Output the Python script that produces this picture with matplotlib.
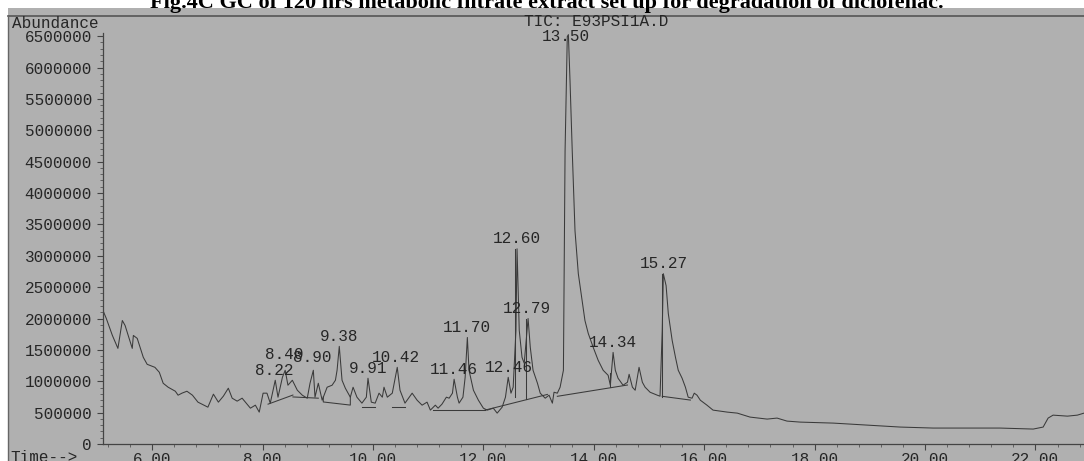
import matplotlib
matplotlib.use("Agg")
import matplotlib.pyplot as plt
import numpy as np
from matplotlib.ticker import MultipleLocator, FixedLocator
from matplotlib.lines import Line2D
from matplotlib.patches import Rectangle

# chromatogram trace (time in min, abundance)
time = [5.11, 5.17, 5.28, 5.38, 5.46, 5.51, 5.64, 5.66, 5.73, 5.84, 5.91, 6.05, 6.13, 6.20, 6.29,
        6.42, 6.47, 6.54, 6.63, 6.73, 6.83, 7.01, 7.11, 7.20, 7.29, 7.38, 7.45, 7.54, 7.63, 7.78,
        7.87, 7.94, 8.01, 8.08, 8.14, 8.23, 8.28, 8.36, 8.41, 8.46, 8.54, 8.63, 8.72, 8.81, 8.86,
        8.92, 8.95, 9.01, 9.08, 9.17, 9.26, 9.32, 9.35, 9.39, 9.44, 9.50, 9.59, 9.64, 9.71, 9.80,
        9.88, 9.91, 9.97, 10.04, 10.11, 10.17, 10.20, 10.26, 10.35, 10.44, 10.49, 10.58, 10.71,
        10.80, 10.89, 10.98, 11.04, 11.13, 11.18, 11.25, 11.33, 11.38, 11.44, 11.47, 11.53, 11.56,
        11.63, 11.67, 11.71, 11.74, 11.82, 11.91, 12.00, 12.07, 12.18, 12.25, 12.34, 12.40, 12.45,
        12.50, 12.54, 12.59, 12.61, 12.65, 12.70, 12.74, 12.78, 12.81, 12.85, 12.90, 12.98, 13.03,
        13.12, 13.19, 13.25, 13.28, 13.34, 13.39, 13.45, 13.46, 13.48, 13.52, 13.54, 13.57, 13.61,
        13.66, 13.72, 13.79, 13.84, 13.90, 13.99, 14.08, 14.17, 14.26, 14.30, 14.35, 14.39, 14.44,
        14.53, 14.61, 14.64, 14.70, 14.75, 14.79, 14.82, 14.88, 14.93, 15.02, 15.15, 15.20, 15.24,
        15.26, 15.31, 15.35, 15.42, 15.48, 15.53, 15.60, 15.66, 15.71, 15.78, 15.82, 15.87, 15.93,
        16.05, 16.16, 16.42, 16.60, 16.83, 17.14, 17.32, 17.50, 17.74, 18.34, 18.95, 19.55, 20.15,
        20.76, 21.36, 21.96, 22.14, 22.23, 22.32, 22.58, 22.76, 22.88]
abundance = [2127000, 2000000, 1730000, 1524000, 1968000, 1889000, 1524000, 1730000, 1683000,
             1381000, 1270000, 1222000, 1143000, 968000, 905000, 841000, 778000, 810000, 841000,
             778000, 667000, 587000, 794000, 667000, 762000, 889000, 730000, 683000, 730000,
             571000, 619000, 508000, 810000, 810000, 651000, 1016000, 746000, 1063000, 1175000,
             937000, 1016000, 857000, 778000, 730000, 968000, 1175000, 746000, 968000, 698000,
             905000, 937000, 1016000, 1175000, 1556000, 1016000, 889000, 746000, 905000, 746000,
             651000, 746000, 1048000, 667000, 651000, 810000, 746000, 905000, 746000, 810000,
             1222000, 857000, 651000, 810000, 698000, 619000, 667000, 540000, 619000, 571000,
             635000, 746000, 730000, 810000, 1032000, 746000, 651000, 746000, 1063000, 1698000,
             1175000, 857000, 698000, 571000, 540000, 571000, 492000, 587000, 746000, 1063000,
             810000, 905000, 1810000, 3111000, 1810000, 1381000, 1286000, 1698000, 2000000,
             1540000, 1175000, 968000, 810000, 730000, 778000, 651000, 825000, 810000, 905000,
             1175000, 2286000, 4667000, 6492000, 6524000, 5778000, 4667000, 3397000, 2714000,
             2286000, 1968000, 1762000, 1540000, 1333000, 1175000, 1095000, 937000, 1460000,
             1175000, 1048000, 937000, 984000, 1111000, 905000, 857000, 1063000, 1222000, 984000,
             905000, 825000, 778000, 762000, 1810000, 2714000, 2524000, 2079000, 1651000, 1381000,
             1175000, 1048000, 905000, 746000, 730000, 810000, 778000, 698000, 619000, 540000,
             508000, 492000, 429000, 397000, 413000, 365000, 349000, 333000, 302000, 270000,
             254000, 254000, 254000, 238000, 270000, 413000, 460000, 444000, 460000, 492000]

# integration baselines
base_t = [[8.10, 8.55], [8.55, 9.01], [9.10, 9.10, 9.59, 9.59], [9.80, 10.04], [10.35, 10.58],
          [11.09, 12.03], [12.03, 13.16], [13.34, 14.61], [15.24, 15.75]]
base_a = [[635000, 780000], [750000, 730000], [750000, 670000, 620000, 750000], [590000, 590000],
          [590000, 590000], [540000, 540000], [540000, 790000], [760000, 940000], [760000, 700000]]

# peak start markers
drop_t = [12.58, 12.78, 14.30, 15.24]
drop_lo = [750000, 710000, 905000, 750000]
drop_hi = [3111000, 2000000, 1130000, 2714000]

peak_rt = ["8.22", "8.40", "8.90", "9.38", "9.91", "10.42", "11.46", "11.70", "12.46",
           "12.60", "12.79", "13.50", "14.34", "15.27"]

W, H = 1084, 461
fig = plt.figure(figsize=(W / 100, H / 100), dpi=100)
fig.patch.set_facecolor("white")

paper = "#b0b0b0"
ink = "#262626"
trace = "#3a3a3a"
fig.patches.append(Rectangle((8 / W, 0), 1 - 8 / W, 1 - 8 / H, transform=fig.transFigure,
                             facecolor=paper, edgecolor="none", zorder=-10))
fig.add_artist(Line2D([8 / W, 1], [1 - 16 / H, 1 - 16 / H], color="#555555", lw=1.2, zorder=-5))
fig.add_artist(Line2D([8 / W, 8 / W], [0, 1 - 16 / H], color="#666666", lw=1.0, zorder=-5))

fig.text(547 / W, 1 - 8 / H,
         "Fig.4C GC of 120 hrs metabolic filtrate extract set up for degradation of diclofenac.",
         family="Liberation Serif", weight="bold", fontsize=16, ha="center", va="baseline")

mono = "Liberation Mono"
fs = 11.5

ax = fig.add_axes([103 / W, 17 / H, 1 - 103 / W, 411 / H])
ax.set_zorder(5)
ax.set_facecolor("none")
ax.plot(time, abundance, color=trace, lw=0.75)
for bt, ba in zip(base_t, base_a):
    ax.plot(bt, ba, color=trace, lw=0.75)
for t, lo, hi in zip(drop_t, drop_lo, drop_hi):
    ax.plot([t, t], [lo, hi], color=trace, lw=0.75)

t_arr = np.array(time)
a_arr = np.array(abundance)
extra = {"8.40": 6, "8.90": 3, "13.50": -12}
for rt in peak_rt:
    v = float(rt)
    near = np.abs(t_arr - v) < 0.06
    apex = a_arr[near].max()
    dy = 10 + extra.get(rt, 0)
    ax.annotate(rt, (v, apex), xytext=(0, dy), textcoords="offset pixels",
                ha="center", va="center", family=mono, fontsize=fs, color=ink,
                annotation_clip=False)

ax.set_xlim(5.11, 22.88)
ax.set_ylim(0, 6550000)
xmaj = [6, 8, 10, 12, 14, 16, 18, 20, 22]
ymaj = np.arange(0, 6500001, 500000)
ax.xaxis.set_major_locator(FixedLocator(xmaj))
ax.xaxis.set_minor_locator(MultipleLocator(0.4))
ax.yaxis.set_major_locator(FixedLocator(ymaj))
ax.yaxis.set_minor_locator(MultipleLocator(100000))
ax.set_xticklabels([f"{v:.2f}" for v in xmaj])
ax.set_yticklabels([str(int(v)) for v in ymaj])
for lab in ax.get_xticklabels() + ax.get_yticklabels():
    lab.set_family(mono)
    lab.set_fontsize(fs)
    lab.set_color(ink)
ax.tick_params(axis="both", which="major", length=4, width=0.8, color="#444444", pad=4)
ax.tick_params(axis="both", which="minor", length=2.5, width=0.6, color="#555555")
ax.tick_params(axis="x", pad=2)
for s in ["top", "right"]:
    ax.spines[s].set_visible(False)
for s in ["left", "bottom"]:
    ax.spines[s].set_color("#444444")
    ax.spines[s].set_linewidth(0.9)
ax.spines["left"].set_bounds(0, 6550000)

fig.text(12 / W, 1 - 23 / H, "Abundance", family=mono, fontsize=fs, color=ink, va="center")
fig.text(596 / W, 1 - 21 / H, "TIC: E93PSI1A.D", family=mono, fontsize=fs, color=ink,
         ha="center", va="center")
fig.text(10 / W, 1 - 457 / H, "Time-->", family=mono, fontsize=fs, color=ink, va="center")

fig.savefig("out.png", dpi=100, facecolor=fig.get_facecolor())
